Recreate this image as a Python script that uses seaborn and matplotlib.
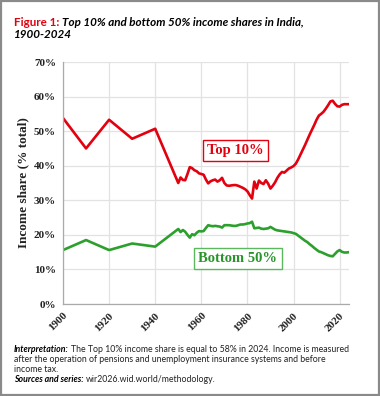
import numpy as np
import pandas as pd
import matplotlib
matplotlib.use("Agg")
import matplotlib.pyplot as plt
import seaborn as sns
from matplotlib.patches import Rectangle

# ------------------- data -------------------
years_early = [1900, 1910, 1920, 1930, 1940]
top10_early = [53.8, 45.0, 53.3, 47.8, 50.7]
bottom50_early = [15.6, 18.5, 15.6, 17.5, 16.6]

years_annual = list(range(1950, 2025))
top10_annual = [
    35.0, 36.6, 35.9, 35.8, 37.6, 39.6, 39.3, 38.7, 38.4, 37.8,  # 1950s
    37.6, 37.4, 36.0, 34.9, 35.5, 35.8, 36.0, 35.4, 35.8, 36.5,  # 1960s
    35.0, 34.3, 34.2, 34.3, 34.4, 34.4, 34.2, 33.9, 33.6, 33.2,  # 1970s
    32.6, 31.5, 30.5, 35.4, 33.4, 35.7, 35.0, 34.7, 35.8, 34.8,  # 1980s
    33.4, 34.2, 35.2, 36.5, 37.5, 38.2, 38.0, 38.6, 39.2, 39.5,  # 1990s
    39.9, 40.6, 41.8, 43.2, 44.6, 46.0, 47.5, 49.0, 50.4, 51.8,  # 2000s
    53.3, 54.5, 55.0, 55.6, 56.5, 57.5, 58.6, 58.8, 57.9, 57.2,  # 2010s
    57.1, 57.6, 57.8, 57.8, 57.8,                                # 2020s
]
bottom50_annual = [
    21.7, 20.8, 21.4, 20.9, 20.0, 19.2, 20.2, 19.9, 20.6, 21.1,
    21.0, 21.1, 22.0, 22.8, 22.6, 22.5, 22.6, 22.5, 22.4, 22.1,
    22.8, 22.8, 22.8, 22.7, 22.6, 22.6, 22.8, 23.0, 23.0, 23.1,
    23.3, 23.4, 23.8, 21.9, 22.0, 22.1, 21.8, 21.7, 21.8, 21.9,
    22.3, 21.9, 21.5, 21.3, 21.2, 21.1, 21.0, 20.9, 20.8, 20.7,
    20.5, 20.3, 19.8, 19.3, 18.8, 18.3, 17.9, 17.3, 16.8, 16.2,
    15.7, 15.2, 15.0, 14.7, 14.4, 14.1, 13.9, 13.8, 14.5, 15.2,
    15.6, 15.1, 14.9, 14.9, 15.0,
]

x_ticks = [1900, 1920, 1940, 1960, 1980, 2000, 2020]
y_ticks = [0, 10, 20, 30, 40, 50, 60, 70]

RED = "#e3000f"
GREEN = "#2ca02c"

years = years_early + years_annual
df = pd.DataFrame({
    "year": years * 2,
    "share": top10_early + top10_annual + bottom50_early + bottom50_annual,
    "group": ["Top 10%"] * len(years) + ["Bottom 50%"] * len(years),
})

# ------------------- figure -------------------
sns.set_style("white")
plt.rcParams["font.family"] = ["Liberation Serif", "DejaVu Serif"]

fig = plt.figure(figsize=(3.8, 3.96), dpi=100)
ax = fig.add_axes([0.1658, 0.2323, 0.918 - 0.1658, 0.8434 - 0.2323])

sns.lineplot(data=df, x="year", y="share", hue="group",
             palette={"Top 10%": RED, "Bottom 50%": GREEN},
             linewidth=1.9, legend=False, ax=ax)

ax.set_xlim(1900, 2024)
ax.set_ylim(0, 70)
ax.set_xticks(x_ticks)
ax.set_yticks(y_ticks)
ax.set_yticklabels([f"{v}%" for v in y_ticks])
ax.set_xticklabels([str(v) for v in x_ticks], rotation=45, ha="right",
                   rotation_mode="anchor")
ax.tick_params(axis="both", labelsize=8, labelcolor="#222222", colors="#aaaaaa",
               length=3, width=0.8, direction="out", pad=2)
for lab in ax.get_xticklabels() + ax.get_yticklabels():
    lab.set_fontweight("bold")
    lab.set_color("#222222")
ax.grid(True, color="#e2e2e2", linewidth=0.9)
ax.set_axisbelow(True)
for side in ["top", "right"]:
    ax.spines[side].set_visible(False)
for side in ["left", "bottom"]:
    ax.spines[side].set_color("#aaaaaa")
    ax.spines[side].set_linewidth(0.9)

ax.set_xlabel("")
ax.set_ylabel("Income share (% total)", fontsize=9.5, fontweight="bold",
              color="#222222", labelpad=3)

# series labels in boxes
ax.text(1974.8, 44.4, "Top 10%", fontsize=10.5, fontweight="bold", color=RED,
        ha="center", va="center",
        bbox=dict(boxstyle="square,pad=0.3", facecolor="white", edgecolor=RED, linewidth=1))
ax.text(1975.9, 13.2, "Bottom 50%", fontsize=10.5, fontweight="bold", color="#27952a",
        ha="center", va="center",
        bbox=dict(boxstyle="square,pad=0.3", facecolor="white", edgecolor="#5cb85c",
                  linewidth=1))

# ------------------- title and notes -------------------
renderer = fig.canvas.get_renderer()
W, H = 380, 396


def run_text(x_px, y_px, parts, size):
    # draw a line made of differently styled pieces, one after another
    x = x_px
    for txt, style, weight, color in parts:
        t = fig.text(x / W, 1 - y_px / H, txt, fontsize=size, fontstyle=style,
                     fontweight=weight, color=color, family=["Lato", "DejaVu Sans"],
                     va="baseline", ha="left")
        bb = t.get_window_extent(renderer)
        x = x + bb.width + size * 0.35


run_text(14, 26, [("Figure 1:", "normal", "bold", RED),
                  ("Top 10% and bottom 50% income shares in India,", "italic", "bold", "black")], 8.4)
run_text(14, 38, [("1900-2024", "italic", "bold", "black")], 8.4)

note_size = 6.3
run_text(14, 352, [("Interpretation:", "italic", "bold", "black"),
                   ("The Top 10% income share is equal to 58% in 2024. Income is measured",
                    "normal", "normal", "#222222")], note_size)
run_text(14, 362, [("after the operation of pensions and unemployment insurance systems and before",
                    "normal", "normal", "#222222")], note_size)
run_text(14, 372, [("income tax.", "normal", "normal", "#222222")], note_size)
run_text(14, 382, [("Sources and series:", "italic", "bold", "black"),
                   ("wir2026.wid.world/methodology.", "normal", "normal", "#222222")], note_size)

# gray frame round the whole picture
fig.patches.append(Rectangle((0.003, 0.003), 0.994, 0.994, transform=fig.transFigure,
                             fill=False, edgecolor="#8a8a8a", linewidth=1.6))

fig.savefig("out.png", dpi=100)
